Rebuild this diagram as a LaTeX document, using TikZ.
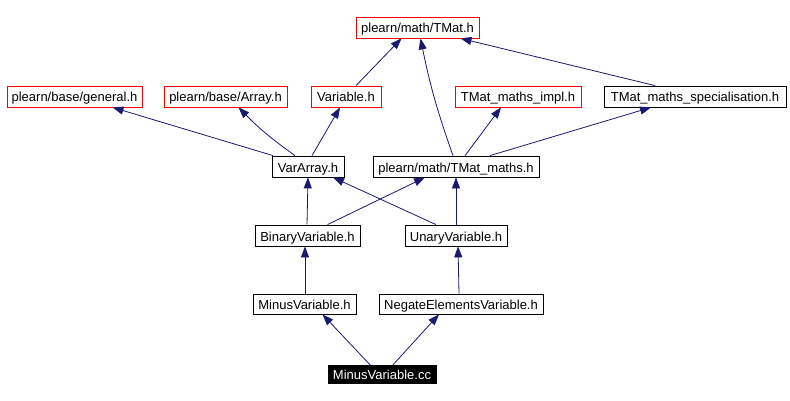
\documentclass[tikz,border=0pt]{standalone}
\usepackage{fontspec}
\setmainfont{Liberation Sans}
\usetikzlibrary{
  arrows.meta,
  positioning
}
\definecolor{DepBlue}{HTML}{191970}
\definecolor{IncRed}{HTML}{FF0000}
\tikzset{
  % Header box: frame colour as argument
  hdr/.style={
    rectangle, draw=#1, fill=white,
    line width=0.8pt, minimum height=21pt, inner sep=0pt,
    text height=12pt, text depth=1pt,
    font=\fontsize{13}{15}\selectfont
  },
  % Root source file
  root/.style={
    rectangle, draw=black, fill=black, text=white,
    minimum height=18pt, inner sep=0pt,
    text height=12pt, text depth=1pt,
    font=\fontsize{13}{15}\selectfont
  },
  % Include arrow
  dep/.style={
    -{Triangle[length=11pt,width=8pt]},
    line width=0.8pt, color=DepBlue
  }
}

\begin{document}
\begin{tikzpicture}[x=1pt,y=-1pt]
  \useasboundingbox (0,0) rectangle (790,401);
  \node[hdr=IncRed, minimum width=123pt] (tmat)    at (417.5,27.5) {plearn/math/TMat.h};
  \node[hdr=IncRed, minimum width=135pt] (general) at (74.5,96.5)  {plearn/base/general.h};
  \node[hdr=IncRed, minimum width=123pt] (array)   at (225.5,96.5) {plearn/base/Array.h};
  \node[hdr=IncRed, minimum width=70pt]  (var)     at (346,96.5)   {Variable.h};
  \node[hdr=IncRed, minimum width=126pt] (impl)    at (518,96.5)   {TMat\_maths\_impl.h};
  \node[hdr=black,  minimum width=182pt] (spec)    at (695,96.5)   {TMat\_maths\_specialisation.h};
  \node[hdr=black,  minimum width=72pt]  (vararr)  at (308,166.5)  {VarArray.h};
  \node[hdr=black,  minimum width=166pt] (maths)   at (456,166.5)  {plearn/math/TMat\_maths.h};
  \node[hdr=black,  minimum width=105pt] (binvar)  at (307.5,235.5) {BinaryVariable.h};
  \node[hdr=black,  minimum width=102pt] (unvar)   at (456,235.5)  {UnaryVariable.h};
  \node[hdr=black,  minimum width=103pt, minimum height=20pt] (minush) at (304.5,304) {MinusVariable.h};
  \node[hdr=black,  minimum width=164pt, minimum height=20pt] (negate) at (461,304)   {NegateElementsVariable.h};
  \node[root, minimum width=108pt] (minuscc) at (382,374) {MinusVariable.cc};

  \draw[dep] ([xshift=-35pt]vararr.north) -- ([xshift=38pt]general.south);
  \draw[dep] ([xshift=-13pt]vararr.north) to[bend left=5] ([xshift=13pt]array.south);
  \draw[dep] ([xshift=4pt]vararr.north)   -- ([xshift=-6pt]var.south);
  \draw[dep] ([xshift=10pt]var.north)     -- ([xshift=-16pt]tmat.south);
  \draw[dep] ([xshift=-3pt]maths.north)   to[bend left=4] ([xshift=3pt]tmat.south);
  \draw[dep] ([xshift=9pt]maths.north)    -- ([xshift=-17pt]impl.south);
  \draw[dep] ([xshift=34pt]maths.north)   -- ([xshift=-44pt]spec.south);
  \draw[dep] ([xshift=-40pt]spec.north)   -- ([xshift=43pt]tmat.south);
  \draw[dep] ([xshift=-0.5pt]binvar.north) -- (vararr.south);
  \draw[dep] ([xshift=20pt]binvar.north)  -- ([xshift=-31pt]maths.south);
  \draw[dep] ([xshift=-20pt]unvar.north)  -- ([xshift=25pt]vararr.south);
  \draw[dep] (unvar.north)                -- (maths.south);
  \draw[dep] ([xshift=0.5pt]minush.north) -- ([xshift=-2.5pt]binvar.south);
  \draw[dep] ([xshift=-2pt]negate.north)  -- ([xshift=2pt]unvar.south);
  \draw[dep] ([xshift=-12pt]minuscc.north) -- ([xshift=18pt]minush.south);
  \draw[dep] ([xshift=11pt]minuscc.north)  -- ([xshift=-22pt]negate.south);
\end{tikzpicture}
\end{document}
